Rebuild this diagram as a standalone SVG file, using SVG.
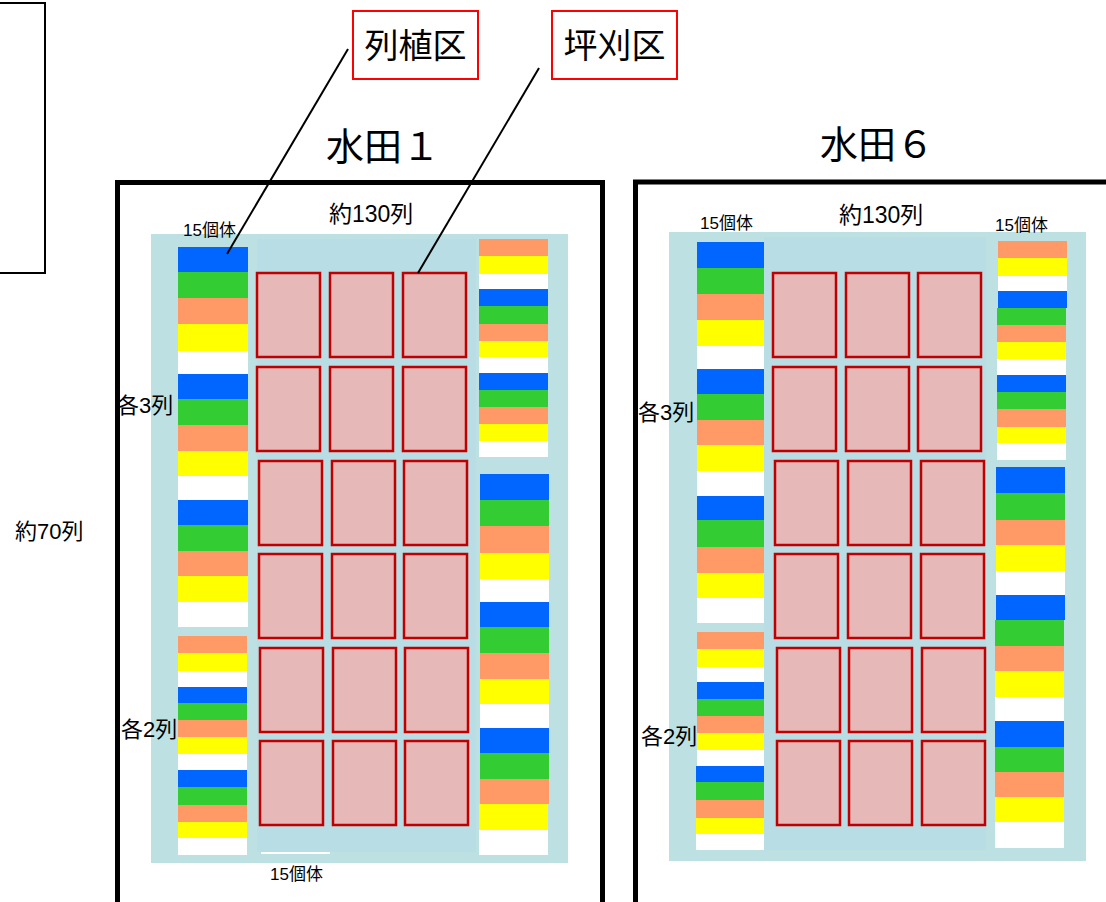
<svg xmlns="http://www.w3.org/2000/svg" width="1106" height="902" viewBox="0 0 1106 902">
<style>
text{font-family:"Liberation Sans","Noto Sans CJK JP",sans-serif;fill:#000}
.frame{fill:#fff;stroke:#000;stroke-width:5}
.bgo{fill:#BDE0E3}
.bgi{fill:#B9DDE5}
.b{fill:#0066FF}.g{fill:#33CC33}.o{fill:#FF9966}.y{fill:#FFFF00}.w{fill:#FFFFFF}
.p{fill:#E6B8B7;stroke:#C00000;stroke-width:2.5}
.lbl{fill:#fff;stroke:#FF0000;stroke-width:2}
.ln{stroke:#000;stroke-width:2;fill:none}
.t34{font-size:34px}.t38{font-size:38px}.t22{font-size:23px}.t17{font-size:17px}.t20{font-size:22px}
</style>
<rect x="0" y="0" width="1106" height="902" fill="#fff"/>
<g id="legend-box"><rect x="-10" y="3" width="55" height="270" fill="#fff" stroke="#000" stroke-width="2"/></g>
<g id="label-70"><text class="t20" x="15" y="539">約70列</text></g>

<g id="field1">
<rect class="frame" x="117.5" y="182.5" width="485" height="800"/>
<text class="t38" x="326" y="160">水田１</text>
<text class="t22" x="329" y="222">約130列</text>
<rect class="bgo" x="151" y="234" width="417" height="629"/>
<rect class="bgi" x="257" y="239" width="219" height="613"/>
<text class="t17" x="183" y="236">15個体</text>
<text class="t20" x="117" y="413">各3列</text>
<text class="t20" x="121" y="737">各2列</text>
<line x1="261" y1="853" x2="330" y2="853" stroke="#fff" stroke-width="2"/>
<text class="t17" x="270" y="880">15個体</text>
<g id="f1-left-a">
<rect class="b" x="178" y="247" width="70" height="25"/><rect class="g" x="178" y="272" width="70" height="26"/><rect class="o" x="178" y="298" width="70" height="26"/><rect class="y" x="178" y="324" width="70" height="27"/><rect class="w" x="178" y="351" width="70" height="23"/>
<rect class="b" x="178" y="374" width="70" height="25"/><rect class="g" x="178" y="399" width="70" height="26"/><rect class="o" x="178" y="425" width="70" height="26"/><rect class="y" x="178" y="451" width="70" height="25"/><rect class="w" x="178" y="476" width="70" height="24"/>
<rect class="b" x="178" y="500" width="70" height="25"/><rect class="g" x="178" y="525" width="70" height="26"/><rect class="o" x="178" y="551" width="70" height="25"/><rect class="y" x="178" y="576" width="70" height="26"/><rect class="w" x="178" y="602" width="70" height="25"/>
</g>
<g id="f1-left-b">
<rect class="o" x="178" y="636" width="69" height="17"/><rect class="y" x="178" y="653" width="69" height="18"/><rect class="w" x="178" y="671" width="69" height="16"/><rect class="b" x="178" y="687" width="69" height="16"/><rect class="g" x="178" y="703" width="69" height="17"/>
<rect class="o" x="178" y="720" width="69" height="17"/><rect class="y" x="178" y="737" width="69" height="17"/><rect class="w" x="178" y="754" width="69" height="16"/><rect class="b" x="178" y="770" width="69" height="17"/><rect class="g" x="178" y="787" width="69" height="18"/>
<rect class="o" x="178" y="805" width="69" height="17"/><rect class="y" x="178" y="822" width="69" height="16"/><rect class="w" x="178" y="838" width="69" height="17"/>
</g>
<g id="f1-right-a">
<rect class="o" x="479" y="239" width="69" height="17"/><rect class="y" x="479" y="256" width="69" height="18"/><rect class="w" x="479" y="274" width="69" height="15"/><rect class="b" x="479" y="289" width="69" height="17"/><rect class="g" x="479" y="306" width="69" height="18"/>
<rect class="o" x="479" y="324" width="69" height="17"/><rect class="y" x="479" y="341" width="69" height="16"/><rect class="w" x="479" y="357" width="69" height="16"/><rect class="b" x="479" y="373" width="69" height="17"/><rect class="g" x="479" y="390" width="69" height="17"/>
<rect class="o" x="479" y="407" width="69" height="17"/><rect class="y" x="479" y="424" width="69" height="17"/><rect class="w" x="479" y="441" width="69" height="16"/>
</g>
<g id="f1-right-b">
<rect class="b" x="480" y="474" width="69" height="26"/><rect class="g" x="480" y="500" width="69" height="26"/><rect class="o" x="480" y="526" width="69" height="27"/><rect class="y" x="480" y="553" width="69" height="26"/><rect class="w" x="480" y="579" width="69" height="23"/>
<rect class="b" x="480" y="602" width="69" height="25"/><rect class="g" x="480" y="627" width="69" height="26"/><rect class="o" x="480" y="653" width="69" height="26"/><rect class="y" x="480" y="679" width="69" height="25"/><rect class="w" x="480" y="704" width="69" height="24"/>
<rect class="b" x="480" y="728" width="69" height="25"/><rect class="g" x="480" y="753" width="69" height="26"/><rect class="o" x="480" y="779" width="69" height="25"/><rect class="y" x="479" y="804" width="69" height="26"/><rect class="w" x="479" y="830" width="69" height="25"/>
</g>
<g id="f1-plots">
<rect class="p" x="257" y="273" width="63" height="84"/><rect class="p" x="330" y="273" width="63" height="84"/><rect class="p" x="403" y="273" width="63" height="84"/>
<rect class="p" x="257" y="367" width="63" height="84"/><rect class="p" x="330" y="367" width="63" height="84"/><rect class="p" x="403" y="367" width="63" height="84"/>
<rect class="p" x="259" y="461" width="63" height="84"/><rect class="p" x="332" y="461" width="63" height="84"/><rect class="p" x="404" y="461" width="63" height="84"/>
<rect class="p" x="259" y="554" width="63" height="84"/><rect class="p" x="332" y="554" width="63" height="84"/><rect class="p" x="404" y="554" width="63" height="84"/>
<rect class="p" x="260" y="648" width="63" height="84"/><rect class="p" x="333" y="648" width="63" height="84"/><rect class="p" x="405" y="648" width="63" height="84"/>
<rect class="p" x="260" y="741" width="63" height="84"/><rect class="p" x="333" y="741" width="63" height="84"/><rect class="p" x="405" y="741" width="63" height="84"/>
</g>
</g>

<g id="field6">
<rect class="frame" x="635.5" y="182" width="600" height="800"/>
<text class="t38" x="820" y="158">水田６</text>
<text class="t22" x="839" y="223">約130列</text>
<rect class="bgo" x="669" y="232" width="417" height="629"/>
<rect class="bgi" x="764" y="237" width="222" height="613"/>
<text class="t17" x="700" y="229">15個体</text>
<text class="t17" x="995" y="231">15個体</text>
<text class="t20" x="638" y="420">各3列</text>
<text class="t20" x="641" y="744">各2列</text>
<g id="f6-left-a">
<rect class="b" x="697" y="242" width="67" height="26"/><rect class="g" x="697" y="268" width="67" height="26"/><rect class="o" x="697" y="294" width="67" height="26"/><rect class="y" x="697" y="320" width="67" height="26"/><rect class="w" x="697" y="346" width="67" height="23"/>
<rect class="b" x="697" y="369" width="67" height="25"/><rect class="g" x="697" y="394" width="67" height="26"/><rect class="o" x="697" y="420" width="67" height="25"/><rect class="y" x="697" y="445" width="67" height="26"/><rect class="w" x="697" y="471" width="67" height="25"/>
<rect class="b" x="697" y="496" width="67" height="24"/><rect class="g" x="697" y="520" width="67" height="27"/><rect class="o" x="697" y="547" width="67" height="26"/><rect class="y" x="697" y="573" width="67" height="25"/><rect class="w" x="697" y="598" width="67" height="25"/>
</g>
<g id="f6-left-b">
<rect class="o" x="697" y="632" width="67" height="17"/><rect class="y" x="697" y="649" width="67" height="18"/><rect class="w" x="697" y="667" width="67" height="15"/><rect class="b" x="697" y="682" width="67" height="17"/><rect class="g" x="697" y="699" width="67" height="17"/>
<rect class="o" x="697" y="716" width="67" height="17"/><rect class="y" x="697" y="733" width="67" height="17"/><rect class="w" x="697" y="750" width="67" height="16"/><rect class="b" x="696" y="766" width="68" height="16"/><rect class="g" x="696" y="782" width="68" height="18"/>
<rect class="o" x="696" y="800" width="68" height="18"/><rect class="y" x="696" y="818" width="68" height="16"/><rect class="w" x="696" y="834" width="68" height="16"/>
</g>
<g id="f6-right-a">
<rect class="o" x="998" y="241" width="69" height="17"/><rect class="y" x="998" y="258" width="69" height="18"/><rect class="w" x="998" y="276" width="69" height="15"/><rect class="b" x="998" y="291" width="69" height="17"/><rect class="g" x="997" y="308" width="69" height="17"/>
<rect class="o" x="997" y="325" width="69" height="17"/><rect class="y" x="997" y="342" width="69" height="17"/><rect class="w" x="997" y="359" width="69" height="16"/><rect class="b" x="997" y="375" width="69" height="17"/><rect class="g" x="997" y="392" width="69" height="17"/>
<rect class="o" x="997" y="409" width="69" height="18"/><rect class="y" x="997" y="427" width="69" height="16"/><rect class="w" x="997" y="443" width="69" height="17"/>
</g>
<g id="f6-right-b">
<rect class="b" x="996" y="467" width="69" height="26"/><rect class="g" x="996" y="493" width="69" height="27"/><rect class="o" x="996" y="520" width="69" height="25"/><rect class="y" x="996" y="545" width="69" height="26"/><rect class="w" x="996" y="571" width="69" height="24"/>
<rect class="b" x="996" y="595" width="69" height="25"/><rect class="g" x="995" y="620" width="69" height="26"/><rect class="o" x="995" y="646" width="69" height="25"/><rect class="y" x="995" y="671" width="69" height="26"/><rect class="w" x="995" y="697" width="69" height="24"/>
<rect class="b" x="995" y="721" width="69" height="26"/><rect class="g" x="995" y="747" width="69" height="25"/><rect class="o" x="995" y="772" width="69" height="25"/><rect class="y" x="995" y="797" width="69" height="25"/><rect class="w" x="995" y="822" width="69" height="26"/>
</g>
<g id="f6-plots">
<rect class="p" x="773" y="273" width="63" height="84"/><rect class="p" x="846" y="273" width="63" height="84"/><rect class="p" x="918" y="273" width="63" height="84"/>
<rect class="p" x="773" y="367" width="63" height="84"/><rect class="p" x="846" y="367" width="63" height="84"/><rect class="p" x="918" y="367" width="63" height="84"/>
<rect class="p" x="775" y="461" width="63" height="84"/><rect class="p" x="848" y="461" width="63" height="84"/><rect class="p" x="921" y="461" width="63" height="84"/>
<rect class="p" x="775" y="554" width="63" height="84"/><rect class="p" x="848" y="554" width="63" height="84"/><rect class="p" x="921" y="554" width="63" height="84"/>
<rect class="p" x="777" y="648" width="63" height="84"/><rect class="p" x="849" y="648" width="63" height="84"/><rect class="p" x="922" y="648" width="63" height="84"/>
<rect class="p" x="777" y="741" width="63" height="84"/><rect class="p" x="849" y="741" width="63" height="84"/><rect class="p" x="922" y="741" width="63" height="84"/>
</g>
</g>

<g id="label-retsushoku">
<rect class="lbl" x="353" y="11" width="125" height="68"/>
<text class="t34" x="415.5" y="58" text-anchor="middle">列植区</text>
</g>
<g id="label-tsubogari">
<rect class="lbl" x="552" y="11" width="125" height="68"/>
<text class="t34" x="614.5" y="58" text-anchor="middle">坪刈区</text>
</g>

<g id="connectors">
<line class="ln" x1="348" y1="49" x2="227" y2="254"/>
<line class="ln" x1="539" y1="68" x2="418" y2="273"/>
</g>
</svg>
